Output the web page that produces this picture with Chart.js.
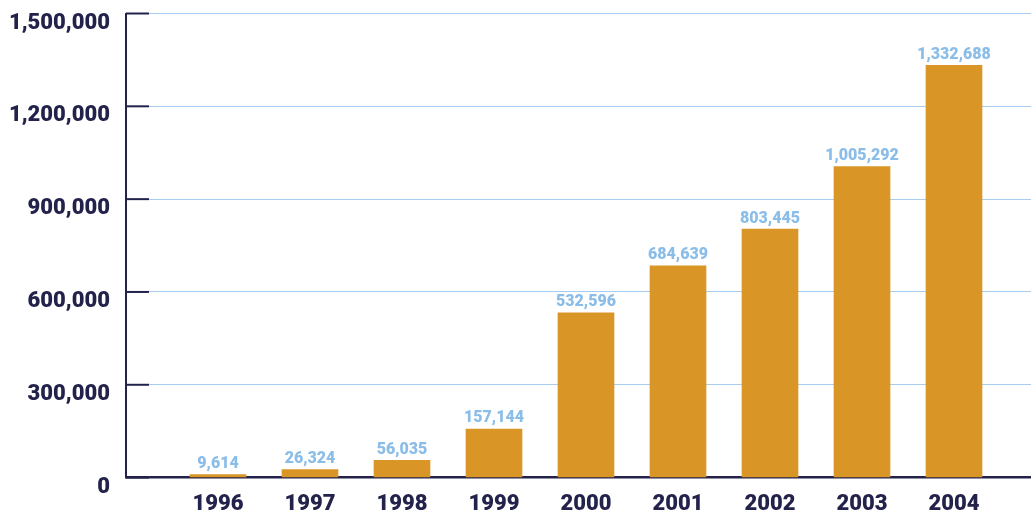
<!DOCTYPE html>
<html>
<head>
<meta charset="utf-8">
<script src="https://cdn.jsdelivr.net/npm/chart.js@4"></script>
<style>
  html, body { margin: 0; padding: 0; background: #ffffff; }
  #wrap { width: 1031px; height: 510px; position: relative; }
</style>
</head>
<body>
<div id="wrap"><canvas id="chartSubs"></canvas></div>
<script>
  const years = ["1996", "1997", "1998", "1999", "2000", "2001", "2002", "2003", "2004"];
  const subscribers = [9614, 26324, 56035, 157144, 532596, 684639, 803445, 1005292, 1332688];
  const yTicks = [0, 300000, 600000, 900000, 1200000, 1500000];

  const COLORS = {
    bar: "#d99526",
    navy: "#22224b",
    grid: "#a6cdef",
    value: "#8bbde9"
  };

  const FONT = "Roboto, Arial, sans-serif";

  // short dark marks on the inside of the y axis
  const tickMarkPlugin = {
    id: "tickMarkPlugin",
    afterDraw(chart) {
      const { ctx, chartArea } = chart;
      const y = chart.scales.y;
      ctx.save();
      ctx.strokeStyle = COLORS.navy;
      ctx.lineWidth = 2;
      y.ticks.forEach((t) => {
        const py = y.getPixelForValue(t.value);
        ctx.beginPath();
        ctx.moveTo(chartArea.left, py);
        ctx.lineTo(chartArea.left + 23, py);
        ctx.stroke();
      });
      ctx.restore();
    }
  };

  const valueLabelPlugin = {
    id: "valueLabelPlugin",
    afterDatasetsDraw(chart) {
      const { ctx } = chart;
      const meta = chart.getDatasetMeta(0);
      ctx.save();
      ctx.font = "900 16px " + FONT;
      ctx.fillStyle = COLORS.value;
      ctx.textAlign = "center";
      ctx.textBaseline = "alphabetic";
      meta.data.forEach((bar, i) => {
        ctx.fillText(subscribers[i].toLocaleString("en-US"), bar.x, bar.y - 6.5);
      });
      ctx.restore();
    }
  };

  const canvas = document.getElementById("chartSubs");

  new Chart(canvas, {
    type: "bar",
    data: {
      datasets: [
        {
          data: subscribers.map((v, i) => ({ x: i, y: v })),
          backgroundColor: COLORS.bar,
          barThickness: 56
        }
      ]
    },
    options: {
      responsive: true,
      maintainAspectRatio: false,
      animation: false,
      layout: {
        padding: { top: 13.5, right: 0, bottom: 0, left: 0 }
      },
      plugins: {
        legend: { display: false },
        tooltip: { enabled: false }
      },
      scales: {
        x: {
          type: "linear",
          min: -1,
          max: 8.837,
          offset: false,
          grid: { display: false, offset: false },
          border: { display: true, color: COLORS.navy, width: 2.5 },
          afterFit(scale) {
            scale.height = 32.4;
            scale.paddingLeft = 0;
            scale.paddingRight = 0;
          },
          ticks: {
            stepSize: 1,
            includeBounds: false,
            autoSkip: false,
            maxRotation: 0,
            padding: 6,
            color: COLORS.navy,
            font: { family: FONT, size: 22, weight: "900" },
            callback(value) {
              return years[value] ?? "";
            }
          }
        },
        y: {
          min: 0,
          max: 1500000,
          afterFit(scale) {
            scale.width = 126;
            scale.paddingTop = 0;
            scale.paddingBottom = 0;
          },
          afterBuildTicks(scale) {
            scale.ticks = yTicks.map((v) => ({ value: v }));
          },
          grid: {
            color: COLORS.grid,
            lineWidth: 1,
            drawTicks: false
          },
          border: { display: true, color: COLORS.navy, width: 2 },
          ticks: {
            padding: 16,
            labelOffset: 9.5,
            color: COLORS.navy,
            font: { family: FONT, size: 22, weight: "900" },
            callback(value) {
              return Number(value).toLocaleString("en-US");
            }
          }
        }
      }
    },
    plugins: [tickMarkPlugin, valueLabelPlugin]
  });
</script>
</body>
</html>
